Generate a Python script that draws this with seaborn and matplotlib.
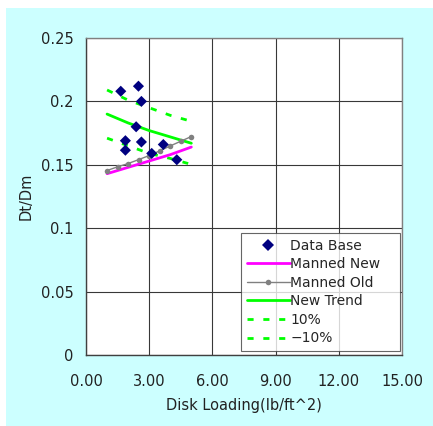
import matplotlib
matplotlib.use("Agg")
import matplotlib.pyplot as plt
import seaborn as sns
from matplotlib.patches import Rectangle
from matplotlib.lines import Line2D

# ---- data ----
db_x = [1.65, 2.49, 2.63, 2.38, 1.87, 1.87, 2.63, 3.12, 3.67, 4.31]
db_y = [0.208, 0.212, 0.200, 0.180, 0.169, 0.1615, 0.168, 0.159, 0.166, 0.154]

mn_x = [1.0, 2.0, 3.0, 4.0, 5.0]
mn_y = [0.143, 0.148, 0.153, 0.158, 0.164]

mo_x = [1.0, 1.5, 2.0, 2.5, 3.0, 3.5, 4.0, 4.5, 5.0]
mo_y = [0.1455, 0.1484, 0.1510, 0.1541, 0.1573, 0.1610, 0.1649, 0.1686, 0.1723]

nt_x = [1.0, 2.0, 3.0, 4.0, 5.0]
nt_y = [0.190, 0.183, 0.177, 0.172, 0.167]

p10_x = [1.0, 2.0, 3.0, 4.0, 4.85]
p10_y = [0.209, 0.201, 0.195, 0.189, 0.185]

m10_x = [1.0, 2.0, 3.0, 4.0, 4.85]
m10_y = [0.171, 0.165, 0.159, 0.155, 0.151]

x_ticks = [0, 3, 6, 9, 12, 15]
x_ticklabels = ["0.00", "3.00", "6.00", "9.00", "12.00", "15.00"]
y_ticks = [0, 0.05, 0.1, 0.15, 0.2, 0.25]
y_ticklabels = ["0", "0.05", "0.1", "0.15", "0.2", "0.25"]

sns.set_style("white")
plt.rcParams['font.family'] = ['DejaVu Sans']

CYAN = "#CCFFFF"
fig = plt.figure(figsize=(4.33, 4.26), dpi=100, facecolor=CYAN)
bg = fig.add_axes([0, 0, 1, 1], zorder=-5)
bg.set_axis_off()
bg.set_xlim(0, 1)
bg.set_ylim(0, 1)
bg.add_patch(Rectangle((0, 0), 6/433, 1, facecolor="white", edgecolor="none", clip_on=False))
bg.add_patch(Rectangle((0, 1 - 8/426), 1, 8/426, facecolor="white", edgecolor="none", clip_on=False))

ax = fig.add_axes([86/433, 1 - 355/426, 316/433, 317/426], zorder=1)
ax.set_facecolor("white")

sns.lineplot(x=nt_x, y=nt_y, ax=ax, color="#00FF00", lw=2, legend=False)
sns.lineplot(x=p10_x, y=p10_y, ax=ax, color="#00FF00", lw=2, legend=False)
sns.lineplot(x=m10_x, y=m10_y, ax=ax, color="#00FF00", lw=2, legend=False)
ax.lines[-1].set_dashes([2.2, 3.5])
ax.lines[-2].set_dashes([2.2, 3.5])
sns.lineplot(x=mn_x, y=mn_y, ax=ax, color="#FF00FF", lw=2, legend=False)
sns.lineplot(x=mo_x, y=mo_y, ax=ax, color="#808080", lw=1, marker="o",
             markersize=4, markeredgewidth=0, legend=False)
sns.scatterplot(x=db_x, y=db_y, ax=ax, color="#000080", marker="D", s=32,
                edgecolor="none", legend=False, zorder=5)

ax.set_xlim(0, 15)
ax.set_ylim(0, 0.25)
ax.set_xticks(x_ticks)
ax.set_xticklabels(x_ticklabels)
ax.set_yticks(y_ticks)
ax.set_yticklabels(y_ticklabels)
ax.grid(True, color="#383838", lw=0.8)
ax.set_axisbelow(True)
ax.tick_params(axis="y", labelsize=10.5, colors="#222222", length=0, pad=9)
ax.tick_params(axis="x", labelsize=10.5, colors="#222222", length=0, pad=14)
for s in ["left", "bottom"]:
    ax.spines[s].set_color("#404040")
    ax.spines[s].set_linewidth(1)
for s in ["right", "top"]:
    ax.spines[s].set_color("#808080")
    ax.spines[s].set_linewidth(1)

ax.set_xlabel("Disk Loading(lb/ft^2)", fontsize=10.5, color="#222222", labelpad=6)
ax.set_ylabel("Dt/Dm", fontsize=10.5, color="#222222", labelpad=5)

handles = [
    Line2D([], [], color="#000080", marker="D", ls="none", markersize=6, markeredgewidth=0),
    Line2D([], [], color="#FF00FF", lw=2),
    Line2D([], [], color="#808080", lw=1, marker="o", markersize=4, markeredgewidth=0),
    Line2D([], [], color="#00FF00", lw=2),
    Line2D([], [], color="#00FF00", lw=2, dashes=[2.2, 3.5]),
    Line2D([], [], color="#00FF00", lw=2, dashes=[2.2, 3.5]),
]
labels = ["Data Base", "Manned New", "Manned Old", "New Trend", "10%", "\u221210%"]
x0 = (241 - 86) / 316
x1 = (400 - 86) / 316
y0 = (355 - 351) / 317
y1 = (355 - 237) / 317
leg = ax.legend(handles, labels, loc="lower left", bbox_to_anchor=(x0, y0, x1 - x0, y1 - y0),
                mode="expand", fontsize=10, frameon=True, fancybox=False, shadow=False,
                handlelength=3.1, handletextpad=0.05, labelspacing=0.33,
                borderpad=0.4, borderaxespad=0)
leg.get_frame().set_edgecolor("#404040")
leg.get_frame().set_linewidth(0.8)

fig.savefig("out.png", dpi=100, facecolor=CYAN)
